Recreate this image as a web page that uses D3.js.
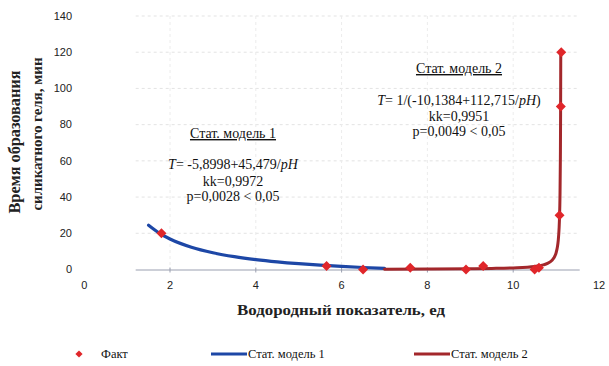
<!DOCTYPE html>
<html>
<head>
<meta charset="utf-8">
<script src="https://cdn.jsdelivr.net/npm/d3@7"></script>
<style>
  html, body { margin: 0; padding: 0; background: #fff; }
  svg { display: block; }
</style>
</head>
<body>
<svg id="chart" width="609" height="366"></svg>
<script>
// ---- data ----
const factPH = [1.8, 5.65, 6.5, 7.6, 8.9, 9.3, 10.5, 10.6, 11.08, 11.11, 11.12];
const factT  = [20, 2, 0, 1, 0, 2, 0, 1, 30, 90, 120];

// model 1: T = -5,8998 + 45,479/pH
const model1PH = [1.5, 1.75, 2.0, 2.5, 3.0, 3.5, 4.0, 4.5, 5.0, 5.5, 6.0, 6.5, 7.0];
const model1T  = [24.42, 20.09, 16.84, 12.29, 9.26, 7.09, 5.47, 4.21, 3.20, 2.37, 1.68, 1.10, 0.60];

// model 2: T = 1/(-10,1384 + 112,715/pH)
const model2PH = [7.0, 8.0, 9.0, 9.5, 10.0, 10.5, 10.7, 10.8, 10.9, 10.95, 11.0, 11.03, 11.05, 11.07, 11.08, 11.09, 11.10, 11.105, 11.108, 11.1087];
const model2T  = [0.17, 0.25, 0.42, 0.58, 0.88, 1.68, 2.53, 3.35, 4.94, 6.44, 9.23, 12.4, 16.1, 22.9, 29.0, 39.6, 62.1, 86.7, 113.8, 120];

const xTicks = [0, 2, 4, 6, 8, 10, 12];
const yTicks = [0, 20, 40, 60, 80, 100, 120, 140];

const legendLabels = ["Факт", "Стат. модель 1", "Стат. модель 2"];
const xTitle = "Водородный показатель, ед";
const yTitle = ["Время образования", "силикатного геля, мин"];

// ---- styles ----
const blue = "#1d47a6";
const darkRed = "#a3272b";
const markerRed = "#e0262a";
const serif = "'Liberation Serif', 'DejaVu Serif', serif";
const sans = "'Liberation Sans', Arial, sans-serif";

const svg = d3.select("#chart");

const x = d3.scaleLinear().domain([0, 12]).range([84.2, 599]);
const y = d3.scaleLinear().domain([0, 140]).range([269.5, 16]);

// gridlines (faint, dashed)
const gx0 = x(1.2), gx1 = x(11.55);
svg.append("g").selectAll("line").data(yTicks.filter(d => d > 0)).join("line")
  .attr("x1", gx0).attr("x2", gx1)
  .attr("y1", d => y(d)).attr("y2", d => y(d))
  .attr("stroke", "#e3e3e3").attr("stroke-width", 1).attr("stroke-dasharray", "3,3");
svg.append("g").selectAll("line").data(xTicks.filter(d => d > 0 && d < 12)).join("line")
  .attr("x1", d => x(d)).attr("x2", d => x(d))
  .attr("y1", y(140)).attr("y2", y(0))
  .attr("stroke", "#ececec").attr("stroke-width", 1).attr("stroke-dasharray", "3,3");

// x axis line + small ticks
svg.append("line")
  .attr("x1", gx0).attr("x2", gx1).attr("y1", y(0) + 0.5).attr("y2", y(0) + 0.5)
  .attr("stroke", "#9a9fb0").attr("stroke-width", 1);
svg.append("g").selectAll("line").data(xTicks.filter(d => d > 0 && d < 12)).join("line")
  .attr("x1", d => x(d)).attr("x2", d => x(d))
  .attr("y1", y(0) - 2).attr("y2", y(0) + 3)
  .attr("stroke", "#9a9fb0").attr("stroke-width", 1);

// tick labels
svg.append("g").selectAll("text").data(yTicks).join("text")
  .attr("x", 72).attr("y", d => y(d)).attr("dy", "0.35em")
  .attr("text-anchor", "end")
  .attr("font-family", sans).attr("font-size", 11).attr("fill", "#222")
  .text(d => d);
svg.append("g").selectAll("text").data(xTicks).join("text")
  .attr("x", d => x(d)).attr("y", 285).attr("dy", "0.35em")
  .attr("text-anchor", "middle")
  .attr("font-family", sans).attr("font-size", 11).attr("fill", "#222")
  .text(d => d);

// axis titles
svg.append("text")
  .attr("x", 341).attr("y", 315)
  .attr("text-anchor", "middle")
  .attr("font-family", serif).attr("font-size", 15).attr("font-weight", "bold").attr("fill", "#222")
  .attr("textLength", 208).attr("lengthAdjust", "spacingAndGlyphs")
  .text(xTitle);
svg.append("text")
  .attr("transform", "translate(20,142) rotate(-90)")
  .attr("text-anchor", "middle")
  .attr("font-family", serif).attr("font-size", 16).attr("font-weight", "bold").attr("fill", "#222")
  .attr("textLength", 143).attr("lengthAdjust", "spacingAndGlyphs")
  .text(yTitle[0]);
svg.append("text")
  .attr("transform", "translate(42,134) rotate(-90)")
  .attr("text-anchor", "middle")
  .attr("font-family", serif).attr("font-size", 14).attr("font-weight", "bold").attr("fill", "#222")
  .attr("textLength", 153).attr("lengthAdjust", "spacingAndGlyphs")
  .text(yTitle[1]);

// model curves
const line = d3.line().x(d => x(d[0])).y(d => y(d[1])).curve(d3.curveMonotoneX);
svg.append("path")
  .datum(model1PH.map((p, i) => [p, model1T[i]]))
  .attr("d", line).attr("fill", "none")
  .attr("stroke", blue).attr("stroke-width", 3.2).attr("stroke-linecap", "round");
svg.append("path")
  .datum(model2PH.map((p, i) => [p, model2T[i]]))
  .attr("d", line).attr("fill", "none")
  .attr("stroke", darkRed).attr("stroke-width", 3).attr("stroke-linecap", "round");

// fact markers (diamonds)
const diamond = d3.symbol().type(d3.symbolSquare).size(50);
svg.append("g").selectAll("path").data(factPH.map((p, i) => [p, factT[i]])).join("path")
  .attr("d", diamond)
  .attr("transform", d => `translate(${x(d[0])},${y(d[1])}) rotate(45)`)
  .attr("fill", markerRed);

// annotations
function annot(cx, lines) {
  const g = svg.append("g").attr("font-family", serif).attr("font-size", 14).attr("fill", "#111");
  lines.forEach(l => {
    const t = g.append("text").attr("x", cx).attr("y", l.y).attr("text-anchor", "middle");
    if (l.underline) t.attr("text-decoration", "underline");
    l.parts.forEach(p => {
      const s = t.append("tspan").text(p[0]);
      if (p[1]) s.attr("font-style", "italic");
    });
  });
}
annot(233, [
  { y: 138, underline: true, parts: [["Стат. модель 1"]] },
  { y: 168.5, parts: [["T", 1], ["= -5,8998+45,479/"], ["pH", 1]] },
  { y: 186, parts: [["kk=0,9972"]] },
  { y: 201, parts: [["p=0,0028 < 0,05"]] }
]);
annot(459, [
  { y: 73, underline: true, parts: [["Стат. модель 2"]] },
  { y: 105, parts: [["T", 1], ["= 1/(-10,1384+112,715/"], ["pH", 1], [")"]] },
  { y: 121, parts: [["kk=0,9951"]] },
  { y: 136, parts: [["p=0,0049 < 0,05"]] }
]);

// legend
const ly = 354;
const lg = svg.append("g").attr("font-family", serif).attr("font-size", 12.5).attr("fill", "#111");
lg.append("path").attr("d", d3.symbol().type(d3.symbolSquare).size(26))
  .attr("transform", `translate(79,${ly}) rotate(45)`).attr("fill", markerRed);
lg.append("text").attr("x", 101).attr("y", ly).attr("dy", "0.35em").text(legendLabels[0]);
lg.append("line").attr("x1", 211).attr("x2", 247).attr("y1", ly).attr("y2", ly)
  .attr("stroke", blue).attr("stroke-width", 3);
lg.append("text").attr("x", 248).attr("y", ly).attr("dy", "0.35em").text(legendLabels[1]);
lg.append("line").attr("x1", 414).attr("x2", 450).attr("y1", ly).attr("y2", ly)
  .attr("stroke", darkRed).attr("stroke-width", 3);
lg.append("text").attr("x", 451).attr("y", ly).attr("dy", "0.35em").text(legendLabels[2]);
</script>
</body>
</html>
